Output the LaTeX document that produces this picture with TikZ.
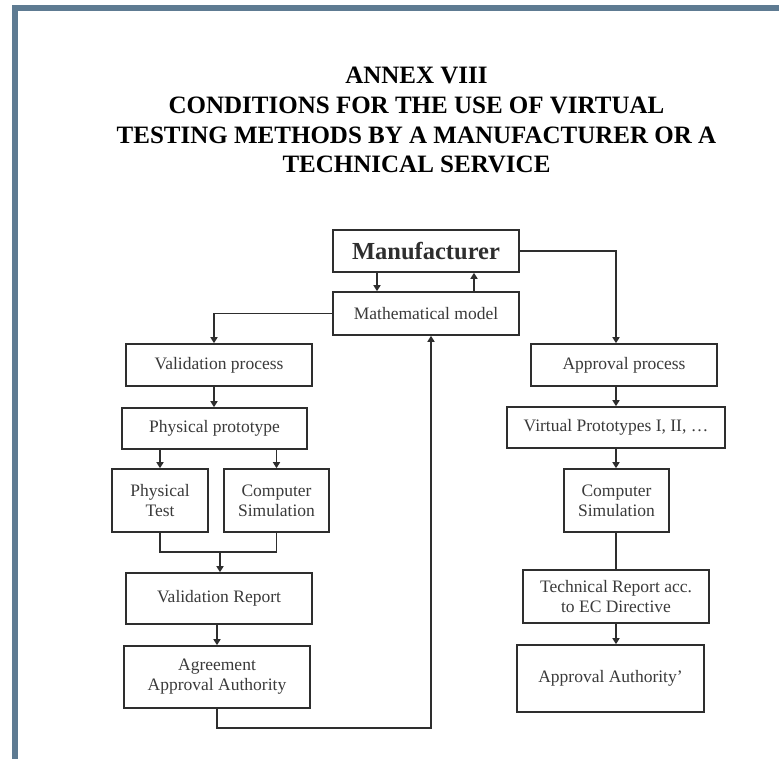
\documentclass[tikz,border=0pt]{standalone}
\usepackage{fontspec}
\setmainfont{Liberation Serif}
\usetikzlibrary{arrows.meta}
\definecolor{frame}{HTML}{5E7B92}
\definecolor{ink}{HTML}{2E2E2E}
\definecolor{txt}{HTML}{3A3A3A}
\begin{document}
\begin{tikzpicture}[x=1pt,y=-1pt,
  box/.style={draw=ink, line width=1.6pt, inner sep=0pt, align=center, text=txt,
              font=\fontsize{17.5}{20}\selectfont},
  conn/.style={draw=ink, line width=1.5pt},
  arr/.style={conn, -{Triangle[length=6pt,width=7pt]}},
  headline/.style={anchor=base, inner sep=0pt, font=\fontsize{25}{30}\selectfont\bfseries}]
\useasboundingbox (0,0) rectangle (779,759);

% page frame
\fill[frame] (12,5) rectangle (779,11);
\fill[frame] (12,5) rectangle (18,759);

% heading
\node[headline] (t1) at (416.5,84) {ANNEX VIII};
\node[headline] (t2) at (416.5,114) {CONDITIONS FOR THE USE OF VIRTUAL};
\node[headline] (t3) at (416.5,144) {TESTING METHODS BY A MANUFACTURER OR A};
\node[headline] (t4) at (416.5,173) {TECHNICAL SERVICE};

% top of the chart
\node[box, minimum width=186, minimum height=42,
      font=\fontsize{24.5}{28}\selectfont\bfseries, text=ink] (manu) at (426,251) {Manufacturer};
\node[box, minimum width=186, minimum height=43] (math) at (426,313.5) {Mathematical model};

% validation branch
\node[box, minimum width=186, minimum height=42] (valp) at (219,365) {Validation process};
\node[box, minimum width=185, minimum height=41] (phys) at (214.5,428.5) {Physical prototype};
\node[box, minimum width=96, minimum height=63] (ptest) at (160,500.5) {Physical\\Test};
\node[box, minimum width=105, minimum height=63] (csimA) at (276.5,500.5) {Computer\\Simulation};
\node[box, minimum width=186, minimum height=51] (vrep) at (219,598.5) {Validation Report};
\node[box, minimum width=186, minimum height=62] (agree) at (217,677) {Agreement\\Approval Authority};

% approval branch
\node[box, minimum width=186, minimum height=42] (appp) at (624,365) {Approval process};
\node[box, minimum width=218, minimum height=41] (virt) at (616,427.5) {Virtual Prototypes I, II, \dots};
\node[box, minimum width=105, minimum height=63] (csimB) at (616.5,500.5) {Computer\\Simulation};
\node[box, minimum width=186, minimum height=53] (tech) at (616,596.5) {Technical Report acc.\\to EC Directive};
\node[box, minimum width=187, minimum height=67] (auth) at (610.5,678.5) {Approval Authority’};

% routing points
\coordinate (xdown) at (377,0);
\coordinate (xup) at (474,0);
\coordinate (xL) at (214,0);
\coordinate (xR) at (616,0);
\coordinate (jn) at (220,552);
\coordinate (lp) at (431,728);

% connectors
\draw[arr] (manu.south -| xdown) -- (math.north -| xdown);
\draw[arr] (math.north -| xup) -- (manu.south -| xup);
\draw[arr] (math.west) -| (valp.north -| xL);
\draw[arr] (manu.east) -| (appp.north -| xR);

\draw[arr] (valp.south -| xL) -- (phys.north -| xL);
\draw[arr] (phys.south -| ptest.north) -- (ptest.north);
\draw[arr] (phys.south -| csimA.north) -- (csimA.north);
\draw[conn] (ptest.south) |- (jn) -| (csimA.south);
\draw[arr] (jn) -- (vrep.north -| jn);
\draw[arr] (vrep.south -| agree.north) -- (agree.north);
\draw[arr] (agree.south) |- (lp) -- (math.south -| lp);

\draw[arr] (appp.south -| xR) -- (virt.north -| xR);
\draw[arr] (virt.south -| xR) -- (csimB.north -| xR);
\draw[conn] (csimB.south -| xR) -- (tech.north -| xR);
\draw[arr] (tech.south -| xR) -- (auth.north -| xR);
\end{tikzpicture}
\end{document}
